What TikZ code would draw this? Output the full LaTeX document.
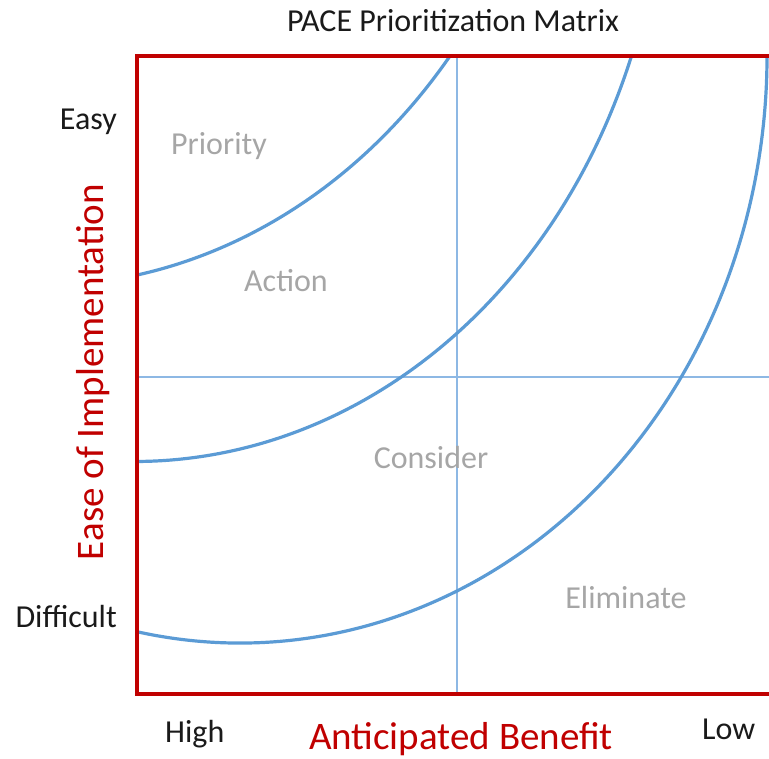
\documentclass[tikz,border=0pt]{standalone}
\usepackage{fontspec}
\setmainfont{Carlito}
\definecolor{framered}{HTML}{C00000}
\definecolor{curveblue}{HTML}{5B9BD5}
\definecolor{gridblue}{HTML}{8DB8E4}
\definecolor{zonegray}{HTML}{A6A6A6}
\definecolor{labelblack}{HTML}{1A1A1A}

\begin{document}
\begin{tikzpicture}[x=1pt,y=1pt,
        frame/.style={draw=framered,line width=3.2pt},
        gridline/.style={draw=gridblue,line width=1.4pt},
        band/.style={draw=curveblue,line width=3.2pt},
        zone/.style={text=zonegray,anchor=base,inner sep=0pt,font=\fontsize{32}{38}\selectfont},
        level/.style={text=labelblack,inner sep=0pt,font=\fontsize{32}{38}\selectfont},
        axis/.style={text=framered,anchor=base,inner sep=0pt,font=\fontsize{39}{46}\selectfont}]
        \useasboundingbox (0,0) rectangle (769,759);
        \clip (0,0) rectangle (769,759);

        % corners of the matrix
        \coordinate (tl) at (137,703);
        \coordinate (bl) at (137,65);
        \coordinate (tr) at (780,703);
        \coordinate (br) at (780,65);
        \coordinate (midtop) at (457,703);
        \coordinate (midbot) at (457,65);
        \coordinate (midleft) at (137,382);
        \coordinate (midright) at (780,382);

        \draw[gridline] (midtop) -- (midbot);
        \draw[gridline] (midleft) -- (midright);

        % the three bands
        \coordinate (b1) at (137.3,484);
        \coordinate (b2) at (137,297.5);
        \coordinate (b3) at (137.3,127.2);
        \draw[band] (b1) arc[start angle=-79.2,end angle=-38.98,x radius=530,y radius=620];
        \draw[band] (b2) arc[start angle=-89.7,end angle=-20.25,x radius=530,y radius=620];
        \draw[band] (b3) arc[start angle=-101.24,end angle=0,x radius=527,y radius=587];

        \draw[frame] (tr) -- (tl) -- (bl) -- (br);

        \node[level,anchor=base] (title) at (453,727) {PACE Prioritization Matrix};
        \node[level,anchor=base east] (easy) at (117,629) {Easy};
        \node[level,anchor=base east] (difficult) at (117,131) {Difficult};
        \node[level,anchor=base west] (high) at (165,16) {High};
        \node[level,anchor=base west] (low) at (702,19) {Low};

        \node[axis,rotate=90] (ease) at (103,387) {Ease of Implementation};
        \node[axis] (benefit) at (461,9) {Anticipated Benefit};

        \node[zone] (priority) at (219,604) {Priority};
        \node[zone] (action) at (286,467) {Action};
        \node[zone] (consider) at (431,290) {Consider};
        \node[zone] (eliminate) at (626,150) {Eliminate};
    \end{tikzpicture}
\end{document}
